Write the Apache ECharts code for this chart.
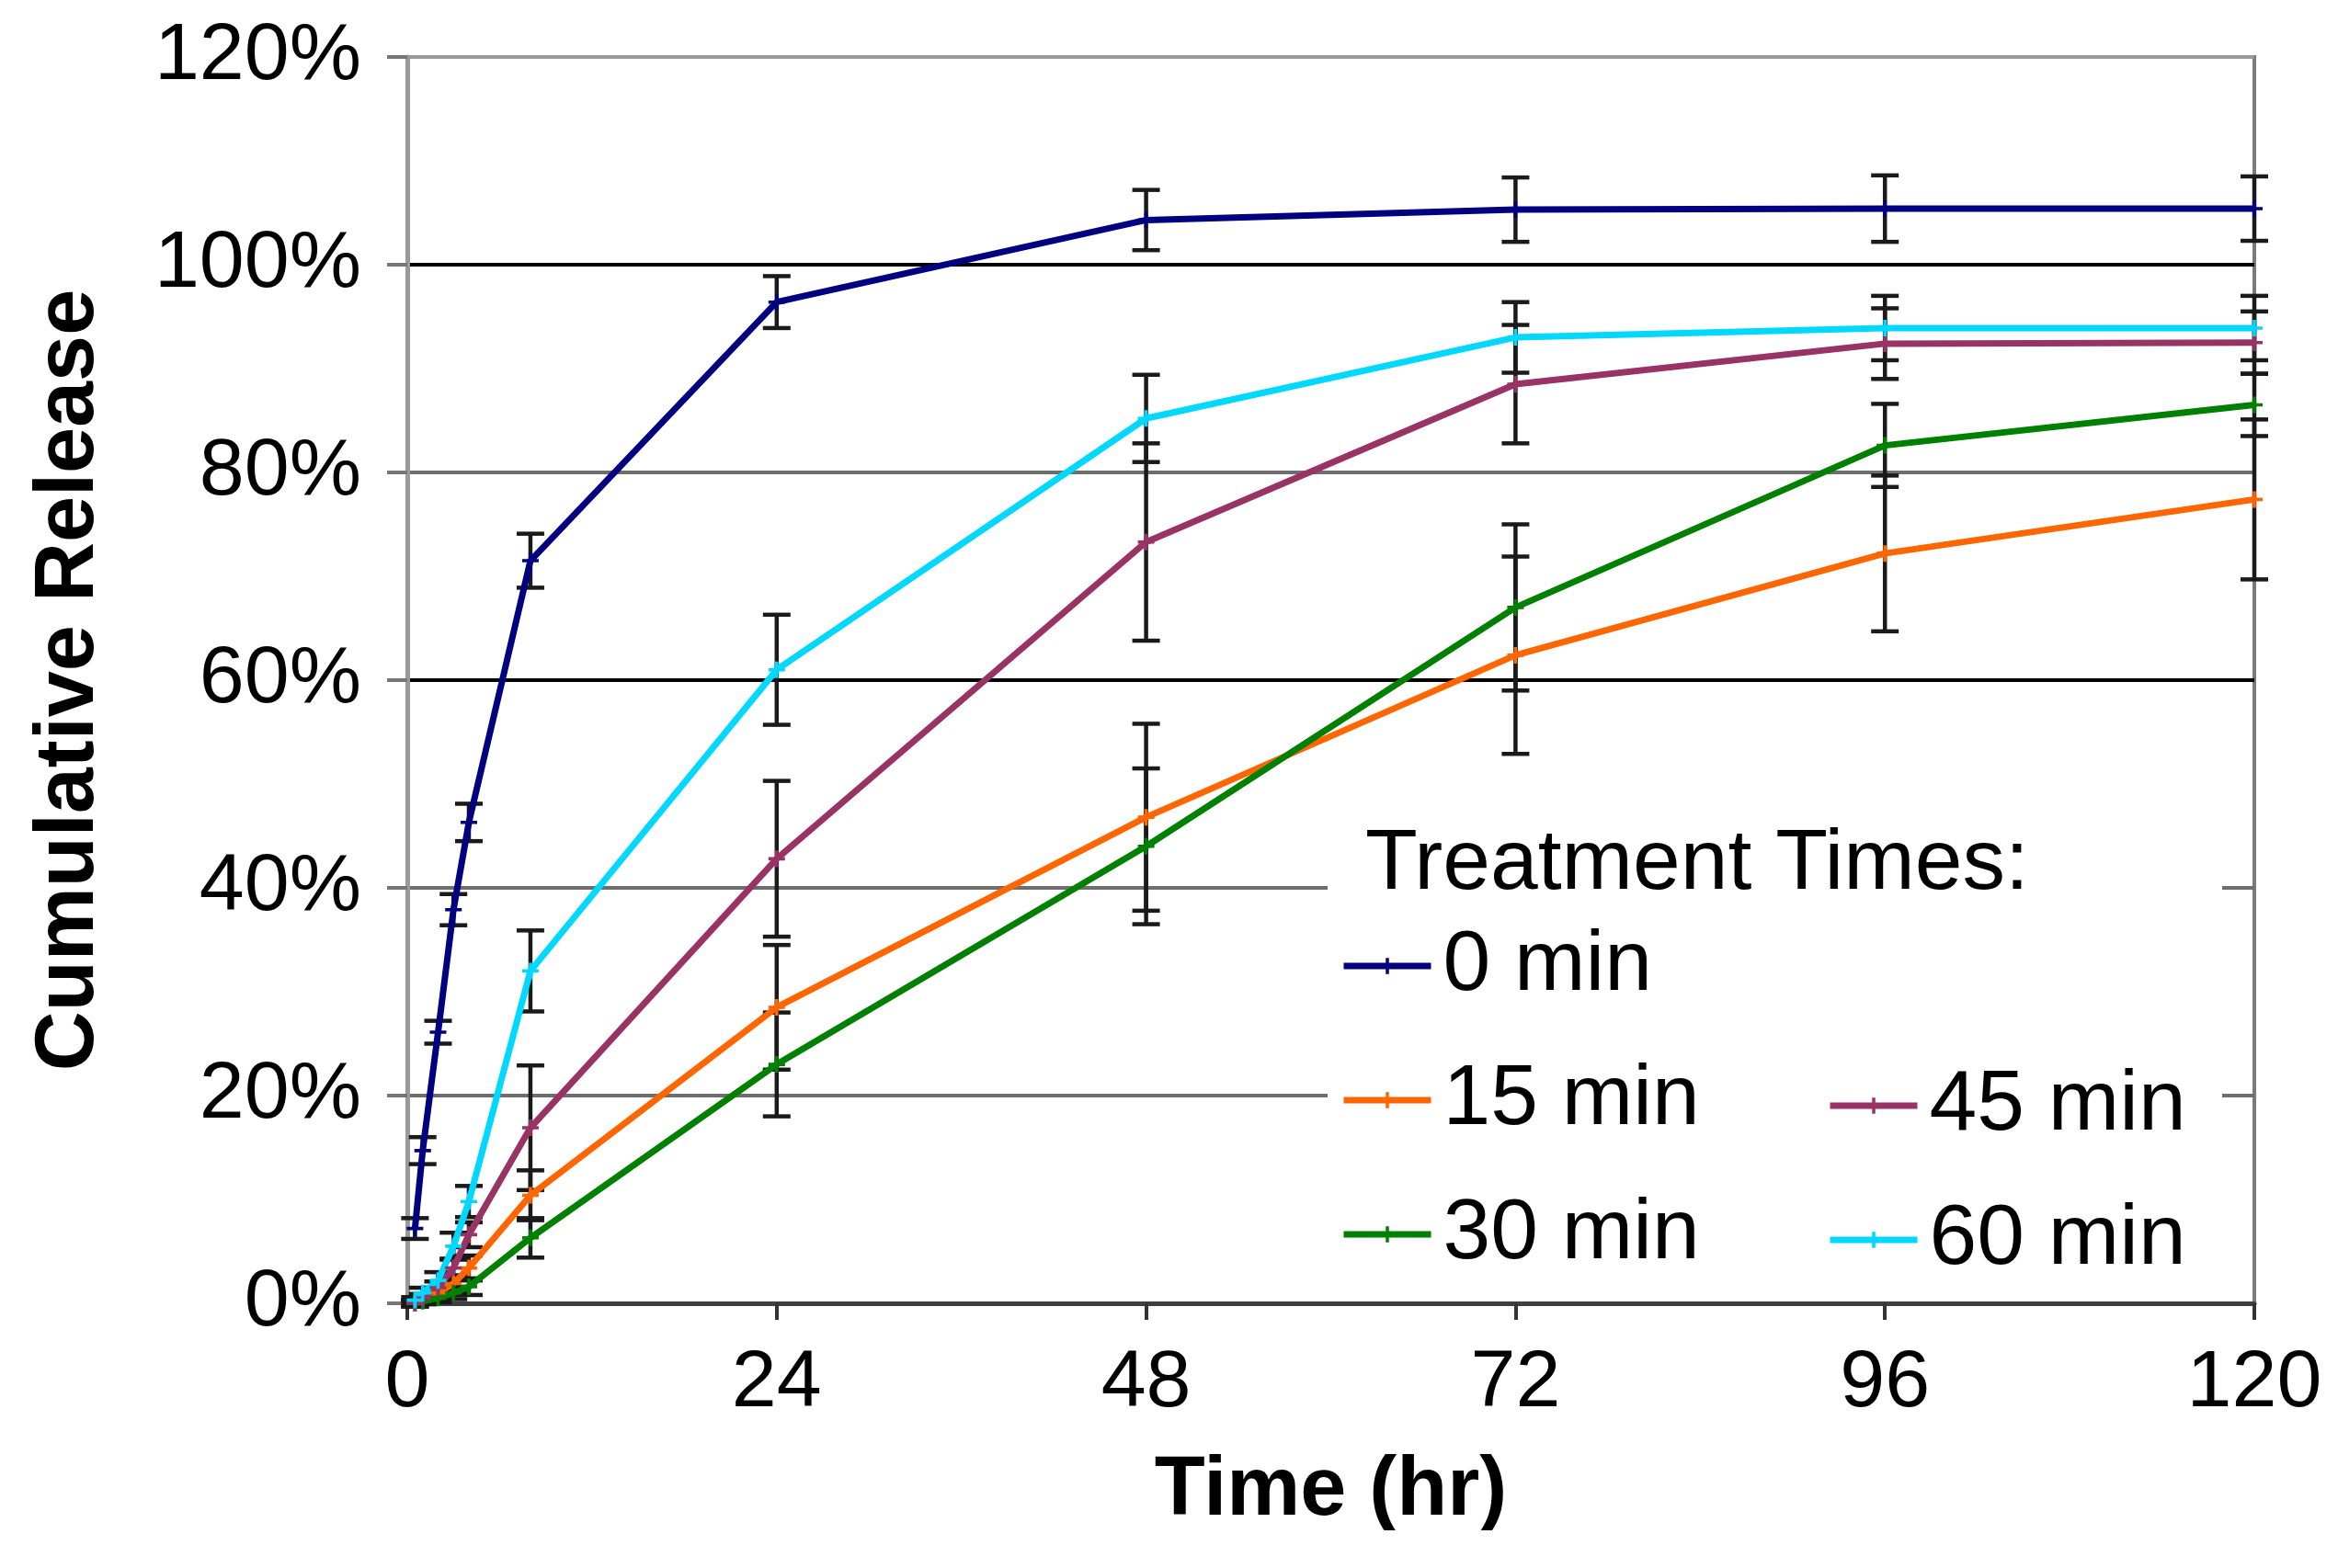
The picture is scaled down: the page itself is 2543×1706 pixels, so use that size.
<!DOCTYPE html>
<html>
<head>
<meta charset="utf-8">
<script src="https://cdn.jsdelivr.net/npm/echarts@6/dist/echarts.min.js"></script>
<style>
html,body{margin:0;padding:0;background:#fff;}
#chart{width:2543px;height:1706px;}
</style>
</head>
<body>
<div id="chart"></div>
<script>
// ---- data (hours, % cumulative release) ----
const times = [0.5, 1, 2, 3, 4, 8, 24, 48, 72, 96, 120];
const seriesNames = ['0 min', '15 min', '30 min', '45 min', '60 min'];
const release0  = [7.2, 14.7, 26.1, 37.9, 46.3, 71.5, 96.4, 104.3, 105.3, 105.4, 105.4];
const release15 = [0, 0.3, 1.0, 1.9, 3.4, 10.4, 28.5, 46.8, 62.4, 72.2, 77.4];
const release30 = [0, 0.2, 0.5, 1.0, 1.6, 6.3, 23.0, 44.0, 67.0, 82.6, 86.5];
const release45 = [0, 0.5, 1.5, 3.4, 6.6, 16.9, 42.8, 73.3, 88.5, 92.4, 92.5];
const release60 = [0.3, 1.0, 2.2, 5.5, 9.8, 32.0, 61.0, 85.2, 93.0, 93.9, 93.9];
const err0  = [1.0, 1.3, 1.1, 1.5, 1.8, 2.6, 2.5, 2.9, 3.1, 3.2, 3.1];
const err15 = [0.3, 0.3, 0.5, 0.8, 1.2, 2.4, 6.0, 9.0, 9.5, 7.5, 7.7];
const err30 = [0.3, 0.3, 0.4, 0.6, 0.8, 1.9, 5.0, 7.5, 8.0, 4.0, 3.0];
const err45 = [0.3, 0.4, 0.6, 0.9, 1.2, 6.0, 7.5, 9.5, 5.7, 3.4, 3.0];
const err60 = [0.3, 0.5, 0.8, 1.3, 1.5, 3.9, 5.3, 4.2, 3.4, 3.1, 3.1];
const xTicks = [0, 24, 48, 72, 96, 120];
const yTicks = [0, 20, 40, 60, 80, 100, 120];

const colors = ['#000080', '#FF6600', '#008000', '#993366', '#00D8FF'];
const values = [release0, release15, release30, release45, release60];
const errors = [err0, err15, err30, err45, err60];

const FONT = "'Liberation Sans', Arial, sans-serif";
const plusSymbol = 'path://M4,0h2v4h4v2h-4v4h-2v-4h-4v-2h4z';

const chart = echarts.init(document.getElementById('chart'), null, {renderer: 'canvas'});

const lineSeries = seriesNames.map((name, i) => ({
  name: name,
  type: 'line',
  data: times.map((t, j) => [t, values[i][j]]),
  color: colors[i],
  symbol: plusSymbol,
  symbolSize: 18,
  showSymbol: true,
  lineStyle: {width: 7, color: colors[i]},
  itemStyle: {color: colors[i]},
  z: 3,
  animation: false
}));

const errData = [];
values.forEach((vals, i) => {
  vals.forEach((v, j) => {
    errData.push([times[j], v - errors[i][j], v + errors[i][j]]);
  });
});

const errorSeries = {
  type: 'custom',
  name: 'err',
  data: errData,
  encode: {x: 0, y: [1, 2]},
  z: 2,
  silent: true,
  animation: false,
  renderItem: function (params, api) {
    const x = api.value(0);
    const lo = api.coord([x, api.value(1)]);
    const hi = api.coord([x, api.value(2)]);
    const hw = 15;
    const style = {stroke: '#1a1a1a', lineWidth: 4.5};
    return {
      type: 'group',
      children: [
        {type: 'line', shape: {x1: lo[0], y1: lo[1], x2: hi[0], y2: hi[1]}, style: style},
        {type: 'line', shape: {x1: lo[0] - hw, y1: lo[1], x2: lo[0] + hw, y2: lo[1]}, style: style},
        {type: 'line', shape: {x1: hi[0] - hw, y1: hi[1], x2: hi[0] + hw, y2: hi[1]}, style: style}
      ]
    };
  }
};

function legendAt(name, left, centerY) {
  return {
    data: [name],
    left: left,
    top: centerY - 50,
    padding: 0,
    itemWidth: 95,
    itemHeight: 22,
    selectedMode: false,
    lineStyle: {width: 7},
    textStyle: {fontSize: 93, fontFamily: FONT, color: '#000', lineHeight: 100, padding: [0, 0, 0, 8]},
    z: 6
  };
}

const option = {
  backgroundColor: '#fff',
  animation: false,
  grid: {
    left: 443, right: 91, top: 62, bottom: 288,
    show: true, borderColor: '#7a7a7a', borderWidth: 4, backgroundColor: 'transparent'
  },
  xAxis: {
    type: 'value',
    min: xTicks[0], max: xTicks[xTicks.length - 1], interval: 24,
    name: 'Time (hr)',
    nameLocation: 'middle',
    nameGap: 160,
    nameTextStyle: {fontSize: 90, fontWeight: 'bold', fontFamily: FONT, color: '#000'},
    axisLine: {show: true, lineStyle: {color: '#404040', width: 5}},
    axisTick: {show: true, length: 18, inside: false, lineStyle: {color: '#333', width: 4}},
    axisLabel: {fontSize: 88, fontFamily: FONT, color: '#000', margin: 44},
    splitLine: {show: false}
  },
  yAxis: {
    type: 'value',
    min: yTicks[0], max: yTicks[yTicks.length - 1], interval: 20,
    name: 'Cumulative Release',
    nameLocation: 'middle',
    nameGap: 322,
    nameRotate: 90,
    nameTextStyle: {fontSize: 90, fontWeight: 'bold', fontFamily: FONT, color: '#000'},
    axisLine: {show: true, lineStyle: {color: '#9a9a9a', width: 5}},
    axisTick: {show: true, length: 22, inside: false, lineStyle: {color: '#777', width: 4}},
    axisLabel: {fontSize: 88, fontFamily: FONT, color: '#000', margin: 50, formatter: '{value}%'},
    splitLine: {show: true, lineStyle: {width: 4, color: ['#444', '#6e6e6e', '#6e6e6e', '#000', '#6e6e6e', '#000', '#999']}}
  },
  legend: [
    legendAt('0 min', 1458, 1051),
    legendAt('15 min', 1458, 1197),
    legendAt('30 min', 1458, 1343),
    legendAt('45 min', 1987, 1203),
    legendAt('60 min', 1987, 1349)
  ],
  graphic: [
    {type: 'rect', z: 1, silent: true, shape: {x: 1444, y: 895, width: 973, height: 508}, style: {fill: '#fff'}},
    {type: 'text', z: 7, silent: true, x: 1485, y: 941,
      style: {text: 'Treatment Times:', fontSize: 93, fontFamily: FONT, fill: '#000', verticalAlign: 'middle', align: 'left'}},
    {type: 'rect', z: 100, silent: true, shape: {x: 0, y: 1665, width: 2543, height: 41}, style: {fill: '#fff'}}
  ],
  series: lineSeries.concat([errorSeries])
};

chart.setOption(option);
</script>
</body>
</html>
